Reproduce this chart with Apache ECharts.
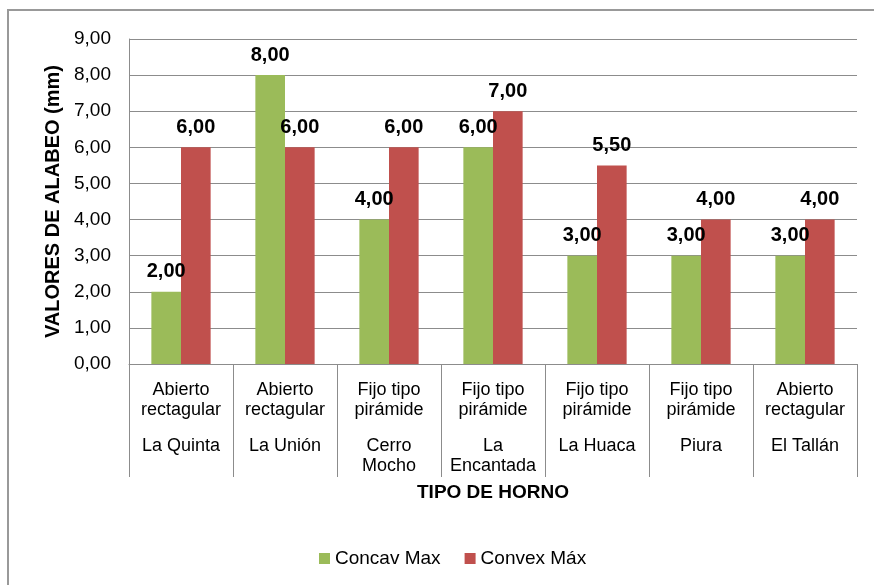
<!DOCTYPE html>
<html>
<head>
<meta charset="utf-8">
<script src="https://cdn.jsdelivr.net/npm/echarts@6/dist/echarts.min.js"></script>
<style>
  html, body { margin: 0; padding: 0; background: #fff; }
  #chart { width: 874px; height: 585px; }
</style>
</head>
<body>
<div id="chart"></div>
<script>
// tipo de horno (nivel 1) y lugar (nivel 2)
var tipos = ["Abierto\nrectagular", "Abierto\nrectagular", "Fijo tipo\npirámide", "Fijo tipo\npirámide", "Fijo tipo\npirámide", "Fijo tipo\npirámide", "Abierto\nrectagular"];
var lugares = ["La Quinta", "La Unión", "Cerro\nMocho", "La\nEncantada", "La Huaca", "Piura", "El Tallán"];
var concavMax = [2, 8, 4, 6, 3, 3, 3];
var convexMax = [6, 6, 6, 7, 5.5, 4, 4];

var FONT = "Arial, 'Liberation Sans', sans-serif";
var GRAY = "#8c8c8c";

function fmt(v){ // 2,00 estilo
    return Number(v).toFixed(2).replace(".", ",");
}

var myChart = echarts.init(document.getElementById("chart"));
var option = {
    backgroundColor: "#fff",
    textStyle: { fontFamily: FONT, color: "#000" },
    graphic: [{ //---borde exterior
        type: "rect",
        shape: { x: 8, y: 10, width: 900, height: 600 },
        style: { fill: "none", stroke: "#999", lineWidth: 2 },
        silent: true
    }],
    grid: { left: 129, right: 17, top: 39, bottom: 221 },
    legend: {
        data: ["Concav Max", "Convex Máx"],
        left: 314,
        top: 544,
        icon: "rect",
        itemWidth: 11,
        itemHeight: 11,
        itemGap: 24,
        textStyle: { fontFamily: FONT, fontSize: 19, color: "#000" }
    },
    xAxis: [
        {
            type: "category",
            data: tipos,
            position: "bottom",
            axisLine: { lineStyle: { color: GRAY, width: 1 } },
            axisTick: { show: true, interval: 0, length: 113, lineStyle: { color: GRAY } },
            axisLabel: { interval: 0, margin: 16, fontSize: 18, lineHeight: 20, color: "#000", fontFamily: FONT, verticalAlign: "top" },
            name: "TIPO DE HORNO",
            nameLocation: "middle",
            nameGap: 119,
            nameTextStyle: { fontFamily: FONT, fontSize: 19, fontWeight: "bold", color: "#000" }
        },
        {
            type: "category",
            data: lugares,
            position: "bottom",
            offset: 64,
            axisLine: { show: false },
            axisTick: { show: false },
            axisLabel: { interval: 0, margin: 8, fontSize: 18, lineHeight: 20, color: "#000", fontFamily: FONT, verticalAlign: "top" }
        }
    ],
    yAxis: {
        type: "value",
        min: 0,
        max: 9,
        interval: 1,
        axisLine: { show: true, lineStyle: { color: GRAY } },
        axisTick: { show: false },
        splitLine: { lineStyle: { color: GRAY, width: 1 } },
        axisLabel: { formatter: fmt, fontSize: 19, margin: 18, color: "#000", fontFamily: FONT },
        name: "VALORES DE ALABEO (mm)",
        nameLocation: "middle",
        nameRotate: 90,
        nameGap: 66,
        nameTextStyle: { fontFamily: FONT, fontSize: 20, fontWeight: "bold", color: "#000" }
    },
    series: [
        {
            name: "Concav Max",
            type: "bar",
            data: concavMax,
            barCategoryGap: "43%",
            barGap: "0%",
            itemStyle: { color: "#9BBB59" },
            label: { show: true, position: "top", distance: 10, formatter: function(p){ return fmt(p.value); },
                fontSize: 20, fontWeight: "bold", color: "#000", fontFamily: FONT }
        },
        {
            name: "Convex Máx",
            type: "bar",
            data: convexMax,
            barCategoryGap: "43%",
            barGap: "0%",
            itemStyle: { color: "#C0504D" },
            label: { show: true, position: "top", distance: 10, formatter: function(p){ return fmt(p.value); },
                fontSize: 20, fontWeight: "bold", color: "#000", fontFamily: FONT }
        }
    ]
};
myChart.setOption(option);
</script>
</body>
</html>
